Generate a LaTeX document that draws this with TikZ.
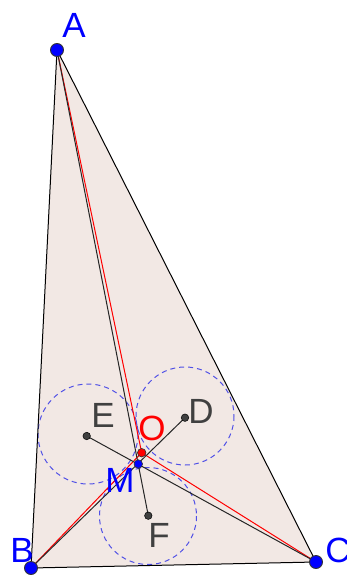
\documentclass[tikz,border=0pt]{standalone}
\usepackage{fontspec}
\setmainfont{Liberation Sans}
\definecolor{trifill}{RGB}{242,232,228}
\definecolor{lblgray}{RGB}{64,64,64}
\definecolor{circblue}{RGB}{80,80,230}
\begin{document}
\begin{tikzpicture}[x=1pt,y=-1pt,
  lbl/.style={font=\fontsize{35}{35}\selectfont,inner sep=0pt},
  bigpt/.style={circle,fill=blue,draw=black!80,line width=0.9pt,minimum size=13pt,inner sep=0pt},
  smallpt/.style={circle,fill=black!75,draw=black,line width=0.5pt,minimum size=7.5pt,inner sep=0pt},
  cevian/.style={black!85,line width=1pt},
  redline/.style={red,line width=1pt},
  dcirc/.style={circblue,dashed,dash pattern=on 5pt off 4pt,line width=1pt}]
\useasboundingbox (0,0) rectangle (347,576);
\coordinate (A) at (57,50);
\coordinate (B) at (31,568);
\coordinate (C) at (316,562);
\coordinate (M) at (138.3,464);
\coordinate (O) at (141.7,452.7);
\coordinate (E) at (86.7,436);
\coordinate (D) at (185,417.7);
\coordinate (F) at (148.3,515.7);
\fill[trifill] (A) -- (B) -- (C) -- cycle;
\draw[dcirc] (88,434) circle (50);
\draw[dcirc] (185,416) circle (49);
\draw[dcirc] (148,516) circle (48.5);
\draw[black,line width=1pt] (A) -- (B) -- (C) -- cycle;
\draw[redline] (A) -- (O);
\draw[redline] (B) -- (O);
\draw[redline] (C) -- (O);
\draw[cevian] (A) -- (F);
\draw[cevian] (B) -- (D);
\draw[cevian] (C) -- (E);
\node[smallpt] (Ep) at (E) {};
\node[smallpt] (Dp) at (D) {};
\node[smallpt] (Fp) at (F) {};
\node[circle,fill=red,draw=black!80,line width=0.6pt,minimum size=8.5pt,inner sep=0pt] (Op) at (O) {};
\node[circle,fill=blue,draw=black!80,line width=0.6pt,minimum size=8.5pt,inner sep=0pt] (Mp) at (M) {};
\node[bigpt] (Ap) at (A) {};
\node[bigpt] (Bp) at (B) {};
\node[bigpt] (Cp) at (C) {};
\node[lbl,text=blue] (lA) at (74,25) {A};
\node[lbl,text=blue] (lB) at (22,550) {B};
\node[lbl,text=blue] (lC) at (338,550) {C};
\node[lbl,text=blue] (lM) at (120,480) {M};
\node[lbl,text=red] (lO) at (152,428) {O};
\node[lbl,text=lblgray] (lE) at (103,415) {E};
\node[lbl,text=lblgray] (lD) at (201,411) {D};
\node[lbl,text=lblgray] (lF) at (159,535) {F};
\end{tikzpicture}
\end{document}
